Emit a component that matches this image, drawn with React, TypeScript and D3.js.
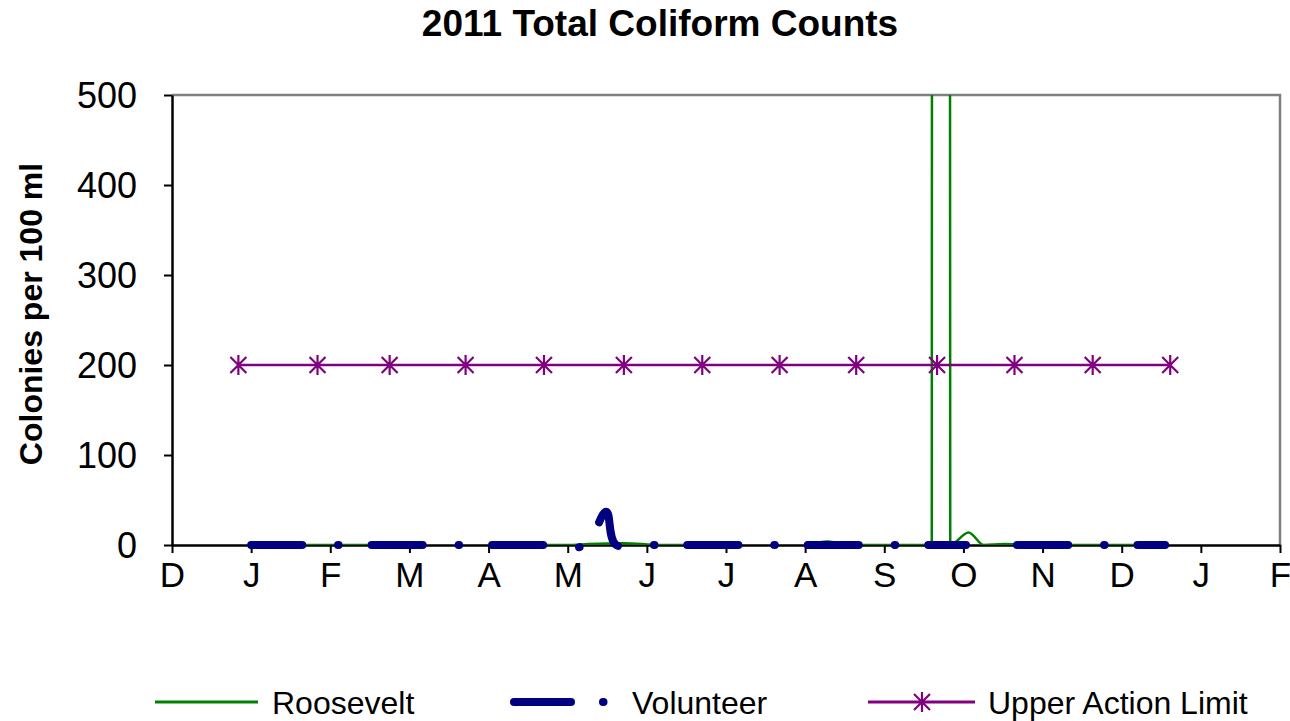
import React, { useEffect, useRef } from 'react';
import * as d3 from 'd3';

// axis labels
const monthLabels = ['D', 'J', 'F', 'M', 'A', 'M', 'J', 'J', 'A', 'S', 'O', 'N', 'D', 'J', 'F'];
const yTicks = [0, 100, 200, 300, 400, 500];

// Roosevelt samples (null = no sample, leaves a gap)
const rooseveltDates = [
  '2011-01-20', '2011-02-03', '2011-02-17', '2011-03-01',
  '2011-04-18', '2011-05-02', '2011-05-09', '2011-05-23', '2011-06-06', '2011-06-20', '2011-07-01',
  '2011-08-01', '2011-08-10', '2011-08-17', '2011-08-30', '2011-09-12', '2011-09-19', '2011-09-22',
  '2011-09-26', '2011-10-03', '2011-10-09', '2011-10-17', '2011-10-31', '2011-11-14', '2011-11-28', '2011-12-12',
];
const rooseveltValues = [
  0, 0, 0, null,
  0, 0, 1, 2, 0, 0, null,
  0, 4, 0, 0, 0, 0, 24200,
  0, 14, 0, 1, 0, 0, 0, 0,
];

// Volunteer samples (null = no sample)
const volunteerDates = [
  '2011-01-01', '2011-01-16', '2011-01-30', '2011-02-13', '2011-02-27', '2011-03-13', '2011-03-27',
  '2011-04-10', '2011-04-24', '2011-05-08', '2011-05-16', '2011-05-20', '2011-06-05', '2011-06-19',
  '2011-07-03', '2011-07-17', '2011-07-31', '2011-08-14', '2011-08-28', '2011-09-11', '2011-09-25',
  '2011-10-02', '2011-10-12', '2011-10-22', '2011-11-06', '2011-11-20', '2011-12-04', '2011-12-18',
];
const volunteerValues = [
  0, 0, 0, 0, 0, 0, 0,
  0, 0, 0, 37, 0, 0, 0,
  0, 0, 0, 0, 0, 0, 0,
  0, null, 0, 0, 0, 0, 0,
];

// Upper Action Limit
const limitDates = [
  '2010-12-27', '2011-01-27', '2011-02-22', '2011-03-23', '2011-04-22', '2011-05-23', '2011-06-22',
  '2011-07-22', '2011-08-21', '2011-09-21', '2011-10-21', '2011-11-20', '2011-12-20',
];
const limitValues = [200, 200, 200, 200, 200, 200, 200, 200, 200, 200, 200, 200, 200];

const GREEN = '#008000';
const NAVY = '#000080';
const PURPLE = '#800080';
const FONT = '"Liberation Sans", Arial, sans-serif';

const parse = d3.timeParse('%Y-%m-%d');
// months since Dec 2010, equal width per month (as the category-style date axis)
const monthPos = (s: string) => {
  const d = parse(s) as Date;
  const m = (d.getFullYear() - 2010) * 12 + d.getMonth() - 11;
  const dim = new Date(d.getFullYear(), d.getMonth() + 1, 0).getDate();
  return m + (d.getDate() - 1) / dim;
};

type Pt = { m: number; v: number | null };

const App = () => {
  const ref = useRef<SVGSVGElement>(null);

  useEffect(() => {
    const svg = d3.select(ref.current);
    svg.selectAll('*').remove();

    const left = 172, right = 1280, top = 95, bottom = 545;
    const x = d3.scaleLinear().domain([0, 14]).range([left, right]);
    const y = d3.scaleLinear().domain([0, 500]).range([bottom, top]);

    svg.append('defs').append('clipPath').attr('id', 'plot')
      .append('rect').attr('x', left).attr('y', top).attr('width', right - left).attr('height', bottom - top);

    // frame: gray top/right
    svg.append('path')
      .attr('d', `M${left},${top}H${right}V${bottom}`)
      .attr('fill', 'none').attr('stroke', '#808080').attr('stroke-width', 2.5);

    // title
    svg.append('text').attr('x', 660).attr('y', 36).attr('text-anchor', 'middle')
      .style('font', `bold 37px ${FONT}`).text('2011 Total Coliform Counts');

    svg.append('text')
      .attr('transform', `translate(42,314) rotate(-90)`)
      .attr('text-anchor', 'middle')
      .style('font', `bold 32px ${FONT}`).text('Colonies per 100 ml');

    // y axis
    const yAxis = svg.append('g').attr('transform', `translate(${left},0)`)
      .call(d3.axisLeft(y).tickValues(yTicks).tickSize(8).tickPadding(27).tickSizeOuter(0));
    yAxis.select('.domain').attr('stroke', '#000').attr('stroke-width', 2.5);
    yAxis.selectAll('.tick line').attr('stroke', '#000').attr('stroke-width', 2);
    yAxis.selectAll('.tick text').style('font', `36px ${FONT}`).attr('fill', '#000').attr('dy', '0.36em');

    // x axis
    const xAxis = svg.append('g').attr('transform', `translate(0,${bottom})`)
      .call(d3.axisBottom(x).tickValues(d3.range(15)).tickSize(8).tickPadding(27).tickSizeOuter(0)
        .tickFormat((d) => monthLabels[d as number]));
    xAxis.select('.domain').attr('stroke', '#000').attr('stroke-width', 2.5);
    xAxis.selectAll('.tick line').attr('stroke', '#000').attr('stroke-width', 2);
    xAxis.selectAll('.tick text').style('font', `35px ${FONT}`).attr('fill', '#000').attr('dy', '0.2em');

    const plot = svg.append('g').attr('clip-path', 'url(#plot)');

    // Roosevelt
    const rData: Pt[] = rooseveltDates.map((d, i) => ({ m: monthPos(d), v: rooseveltValues[i] }));
    const rLine = d3.line<Pt>()
      .defined((d) => d.v !== null)
      .x((d) => x(d.m)).y((d) => y(d.v as number))
      .curve(d3.curveMonotoneX);
    plot.append('path').attr('d', rLine(rData))
      .attr('fill', 'none').attr('stroke', GREEN).attr('stroke-width', 2.5);

    // Volunteer (one path per run so the dash pattern restarts after a gap)
    const vData: Pt[] = volunteerDates.map((d, i) => ({ m: monthPos(d), v: volunteerValues[i] }));
    const vLine = d3.line<Pt>()
      .x((d) => x(d.m)).y((d) => y(d.v as number))
      .curve(d3.curveCardinal);
    const runs: Pt[][] = [[]];
    vData.forEach((d) => {
      if (d.v === null) runs.push([]);
      else runs[runs.length - 1].push(d);
    });
    svg.append('g').selectAll('path').data(runs.filter((r) => r.length > 1)).join('path')
      .attr('d', (r) => vLine(r))
      .attr('fill', 'none').attr('stroke', NAVY).attr('stroke-width', 8)
      .attr('stroke-linecap', 'round').attr('stroke-dasharray', '51 36 0.5 33');

    // Upper Action Limit
    const lData = limitDates.map((d, i) => ({ m: monthPos(d), v: limitValues[i] }));
    const lLine = d3.line<{ m: number; v: number }>().x((d) => x(d.m)).y((d) => y(d.v));
    svg.append('path').attr('d', lLine(lData))
      .attr('fill', 'none').attr('stroke', PURPLE).attr('stroke-width', 2.5);

    const star = (g: d3.Selection<SVGGElement, unknown, null, undefined>, cx: number, cy: number) => {
      const r = 10;
      g.append('path')
        .attr('d', `M${cx},${cy - r}V${cy + r}M${cx - r * 0.8},${cy - r * 0.8}L${cx + r * 0.8},${cy + r * 0.8}M${cx - r * 0.8},${cy + r * 0.8}L${cx + r * 0.8},${cy - r * 0.8}`)
        .attr('stroke', PURPLE).attr('stroke-width', 2.2).attr('fill', 'none');
    };
    const markers = svg.append('g');
    lData.forEach((d) => star(markers, x(d.m), y(d.v)));

    // legend
    const ly = 702;
    const legend = svg.append('g');
    legend.append('line').attr('x1', 155).attr('x2', 258).attr('y1', ly).attr('y2', ly)
      .attr('stroke', GREEN).attr('stroke-width', 3);
    legend.append('text').attr('x', 272).attr('y', ly).attr('dy', '0.36em')
      .style('font', `32px ${FONT}`).text('Roosevelt');

    legend.append('line').attr('x1', 514).attr('x2', 571).attr('y1', ly).attr('y2', ly)
      .attr('stroke', NAVY).attr('stroke-width', 8).attr('stroke-linecap', 'round');
    legend.append('line').attr('x1', 603).attr('x2', 603.5).attr('y1', ly).attr('y2', ly)
      .attr('stroke', NAVY).attr('stroke-width', 8).attr('stroke-linecap', 'round');
    legend.append('text').attr('x', 632).attr('y', ly).attr('dy', '0.36em')
      .style('font', `32px ${FONT}`).text('Volunteer');

    legend.append('line').attr('x1', 868).attr('x2', 975).attr('y1', ly).attr('y2', ly)
      .attr('stroke', PURPLE).attr('stroke-width', 3);
    star(legend, 922, ly);
    legend.append('text').attr('x', 988).attr('y', ly).attr('dy', '0.36em')
      .style('font', `32px ${FONT}`).text('Upper Action Limit');
  }, []);

  return (
    <svg ref={ref} width={1290} height={721}
      style={{ position: 'absolute', left: 0, top: 0, background: '#fff' }} />
  );
};

export default App;
